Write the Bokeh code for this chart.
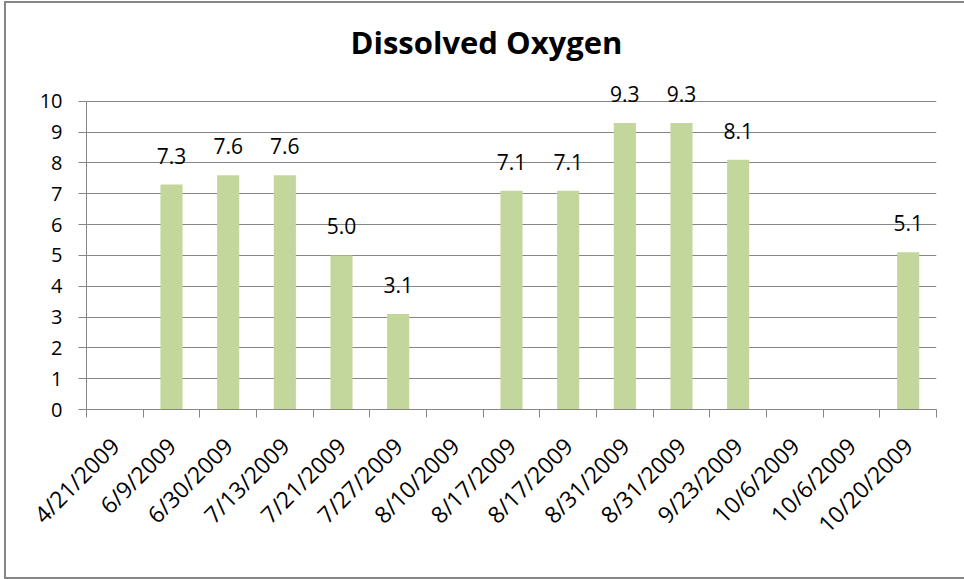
from bokeh.plotting import figure
from bokeh.models import FixedTicker, Label, Title
from bokeh.embed import file_html
from bokeh.resources import INLINE
from math import pi

# Sampling dates (duplicates are separate samples on the same day)
dates = ["4/21/2009", "6/9/2009", "6/30/2009", "7/13/2009", "7/21/2009",
         "7/27/2009", "8/10/2009", "8/17/2009", "8/17/2009", "8/31/2009",
         "8/31/2009", "9/23/2009", "10/6/2009", "10/6/2009", "10/20/2009"]
# Dissolved oxygen readings (None = no reading)
oxygen = [None, 7.3, 7.6, 7.6, 5.0, 3.1, None, 7.1, 7.1, 9.3, 9.3, 8.1,
          None, None, 5.1]
y_ticks = list(range(0, 11))

GRID = "#868686"
BAR = "#C3D69B"
FONT = "Open Sans"

centers = [i + 0.5 for i in range(len(dates))]
bounds = [float(i) for i in range(len(dates) + 1)]

xs = [centers[i] for i, v in enumerate(oxygen) if v is not None]
vals = [v for v in oxygen if v is not None]

# the y range reaches past 10 so the value labels of the tallest bars fit
p = figure(width=958, height=574, x_range=(0, len(dates)), y_range=(0, 11),
           output_backend="svg", toolbar_location=None,
           min_border_left=80, min_border_right=28,
           min_border_top=67, min_border_bottom=168)
# chart-area frame on the left, top and bottom (drawn as shadows so the
# plot keeps its full size)
p.styles = {"margin-left": "6px", "margin-top": "3px",
            "box-shadow": "-2px 0 0 0 #868686, 0 -2px 0 0 #868686, "
                          "0 2px 0 0 #868686, -2px -2px 0 0 #868686, "
                          "-2px 2px 0 0 #868686"}

p.add_layout(Title(text="Dissolved Oxygen", align="left", offset=264,
                   text_font=FONT, text_font_size="31px",
                   text_font_style="bold", text_color="black",
                   standoff=15), "above")

p.vbar(x=xs, top=vals, width=0.39, fill_color=BAR, line_color=None)

# value labels above each bar
for x, v in zip(xs, vals):
    p.add_layout(Label(x=x, y=v, text=f"{v:.1f}", text_align="center",
                       text_baseline="alphabetic", y_offset=29,
                       text_font=FONT, text_font_size="21px",
                       text_color="black"))

p.outline_line_color = None
p.background_fill_color = "white"
p.border_fill_color = "white"
p.xgrid.visible = False
p.ygrid.grid_line_color = GRID
p.ygrid.grid_line_width = 1
p.ygrid.ticker = FixedTicker(ticks=y_ticks)

# y axis
p.yaxis.ticker = FixedTicker(ticks=y_ticks)
p.yaxis.bounds = (0, 10)
p.yaxis.axis_line_color = GRID
p.yaxis.major_tick_line_color = GRID
p.yaxis.major_tick_out = 8
p.yaxis.major_tick_in = 0
p.yaxis.minor_tick_line_color = None
p.yaxis.major_label_standoff = 16
p.yaxis.major_label_text_font = FONT
p.yaxis.major_label_text_font_size = "20px"
p.yaxis.major_label_text_color = "black"

# x axis: labels at category centers, tick marks at category boundaries
p.xaxis.ticker = FixedTicker(ticks=centers, minor_ticks=bounds)
p.xaxis.major_label_overrides = {c: d for c, d in zip(centers, dates)}
p.xaxis.major_label_orientation = pi / 4
p.xaxis.axis_line_color = GRID
p.xaxis.major_tick_line_color = None
p.xaxis.major_tick_out = 8
p.xaxis.minor_tick_line_color = GRID
p.xaxis.minor_tick_out = 8
p.xaxis.minor_tick_in = 0
p.xaxis.major_label_standoff = 24
p.xaxis.major_label_text_font = FONT
p.xaxis.major_label_text_font_size = "23px"
p.xaxis.major_label_text_color = "black"

open("out.html", "w").write(file_html(p, INLINE))
